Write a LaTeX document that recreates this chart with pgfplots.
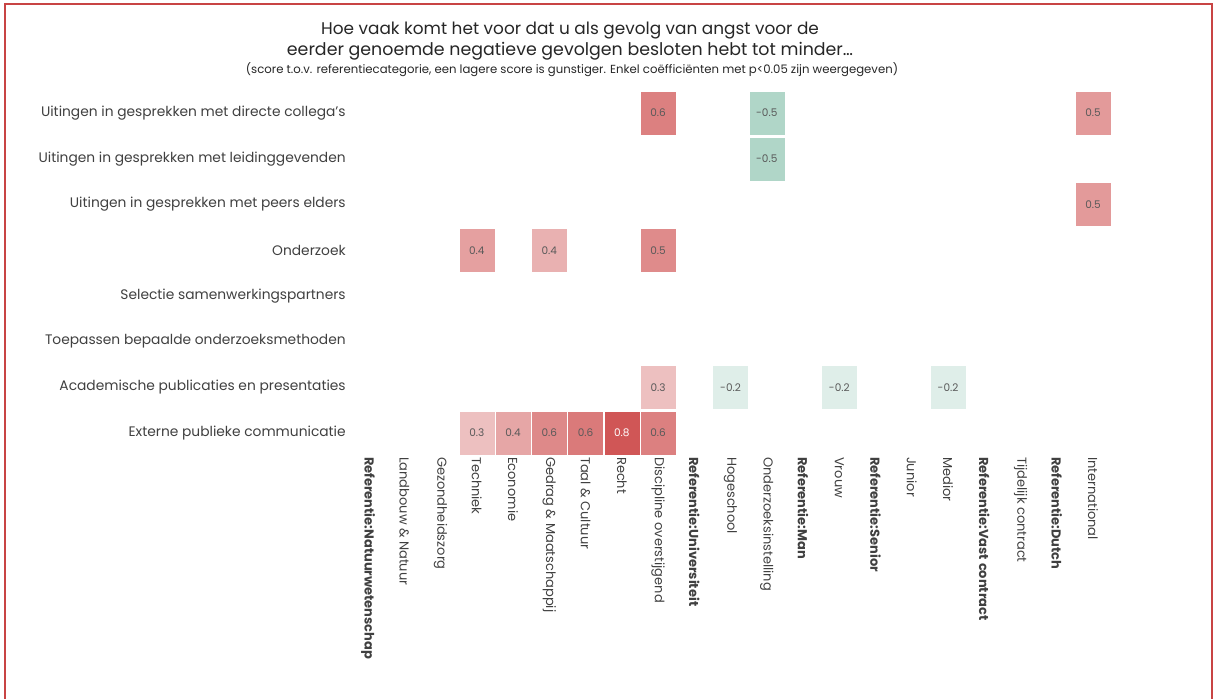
\documentclass[border=0pt]{standalone}
\usepackage{pgfplots}
\pgfplotsset{compat=1.18}
\usepackage{pgfplotstable}
\usepackage{fontspec}
\setmainfont{Poppins}
\definecolor{txt}{HTML}{404040}
\definecolor{framecol}{HTML}{C84444}
\pgfdeclareplotmark{cell}{\pgfpathrectangle{\pgfpoint{-17pt}{-21pt}}{\pgfpoint{34pt}{42pt}}\pgfusepathqfillstroke}

\pgfplotstableread{
x y meta lab
8 0 0.60 0.6
11 0 -0.50 -0.5
20 0 0.48 0.5
11 1 -0.50 -0.5
20 2 0.48 0.5
3 3 0.45 0.4
5 3 0.37 0.4
8 3 0.55 0.5
8 6 0.30 0.3
10 6 -0.20 -0.2
13 6 -0.20 -0.2
16 6 -0.20 -0.2
3 7 0.30 0.3
4 7 0.42 0.4
5 7 0.56 0.6
6 7 0.63 0.6
8 7 0.60 0.6
}\cells

\pgfplotstableread{
x y meta lab
7 7 0.80 0.8
}\cellsdark

\begin{document}
\begin{tikzpicture}[x=1pt,y=1pt]
\useasboundingbox (0,0) rectangle (1214,698);
\draw[framecol, line width=2.2pt] (5,-5) -- (5,694) -- (1212,694) -- (1212,-5);
\node[font=\fontsize{16.9}{20}\selectfont, text=black!85] at (570,667) {Hoe vaak komt het voor dat u als gevolg van angst voor de};
\node[font=\fontsize{17.4}{20}\selectfont, text=black!85] at (570,647) {eerder genoemde negatieve gevolgen besloten hebt tot minder\dots};
\node[font=\fontsize{11.7}{13}\selectfont, text=black!85] at (572,628) {(score t.o.v. referentiecategorie, een lagere score is gunstiger. Enkel coëfficiënten met p<0.05 zijn weergegeven)};
\begin{axis}[
  at={(349.9pt,242.1pt)}, anchor=south west,
  scale only axis, width=761.25pt, height=365.7pt,
  xmin=-0.5, xmax=20.5, ymin=-0.5, ymax=7.5, y dir=reverse,
  axis line style={draw=none}, major tick length=0pt,
  clip=false,
  point meta min=-0.8, point meta max=0.8,
  colormap={rg}{rgb255(0cm)=(129,189,167); rgb255(1cm)=(255,255,255); rgb255(2cm)=(208,86,86)},
  xtick={0,...,20},
  xticklabels={\textbf{Referentie:Natuurwetenschap}, Landbouw \& Natuur, Gezondheidszorg, Techniek, Economie, Gedrag \& Maatschappij, Taal \& Cultuur, Recht, Discipline overstijgend, \textbf{Referentie:Universiteit}, Hogeschool, Onderzoeksinstelling, \textbf{Referentie:Man}, Vrouw, \textbf{Referentie:Senior}, Junior, Medior, \textbf{Referentie:Vast contract}, Tijdelijk contract, \textbf{Referentie:Dutch}, International},
  xticklabel style={rotate=-90, anchor=west, font=\fontsize{13}{15}\selectfont, text=txt, inner sep=1pt},
  ytick={0,...,7},
  yticklabels={Uitingen in gesprekken met directe collega's, Uitingen in gesprekken met leidinggevenden, Uitingen in gesprekken met peers elders, Onderzoek, Selectie samenwerkingspartners, Toepassen bepaalde onderzoeksmethoden, Academische publicaties en presentaties, Externe publieke communicatie},
  yticklabel style={anchor=east, font=\fontsize{13.8}{16}\selectfont, text=txt, inner sep=1pt, xshift=-3pt},
  scatter/use mapped color={draw=mapped color, fill=mapped color, line width=0.1pt},
]
\addplot[scatter, only marks, mark=cell, point meta=\thisrow{meta}] table[x=x, y=y] {\cells};
\addplot[scatter, only marks, mark=cell, point meta=\thisrow{meta}] table[x=x, y=y] {\cellsdark};
\addplot[only marks, mark=none, point meta=explicit symbolic, nodes near coords,
  every node near coord/.append style={anchor=center, font=\fontsize{10.5}{12}\selectfont, text=black!65}]
  table[x=x, y=y, meta=lab] {\cells};
\addplot[only marks, mark=none, point meta=explicit symbolic, nodes near coords,
  every node near coord/.append style={anchor=center, font=\fontsize{10.5}{12}\selectfont, text=white}]
  table[x=x, y=y, meta=lab] {\cellsdark};
\end{axis}
\end{tikzpicture}
\end{document}
